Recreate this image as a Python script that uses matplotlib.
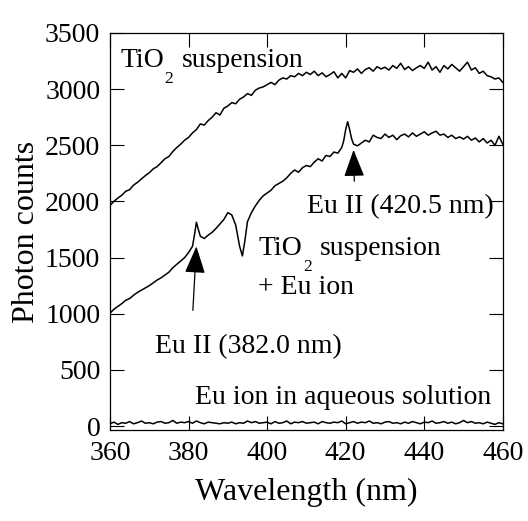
import matplotlib
matplotlib.use('Agg')
import matplotlib.pyplot as plt
import numpy as np

plt.rcParams['font.family'] = ['Liberation Serif', 'DejaVu Serif']

# TiO2 suspension, 360-460 nm every 1 nm
wl = np.arange(360, 461)
tio2 = [1965, 2000, 2030, 2055, 2090, 2105, 2145, 2170, 2200, 2230,
        2255, 2290, 2310, 2345, 2380, 2400, 2445, 2480, 2510, 2545,
        2570, 2610, 2640, 2690, 2680, 2720, 2750, 2790, 2770, 2830,
        2850, 2880, 2870, 2910, 2930, 2960, 2945, 2990, 3010, 3020,
        3040, 3060, 3040, 3080, 3100, 3090, 3120, 3110, 3140, 3120,
        3150, 3130, 3160, 3120, 3145, 3110, 3130, 3155, 3100, 3140,
        3100, 3165, 3150, 3180, 3140, 3175, 3190, 3160, 3200, 3180,
        3195, 3170, 3210, 3185, 3230, 3175, 3200, 3165, 3190, 3210,
        3185, 3240, 3170, 3200, 3150, 3210, 3180, 3220, 3190, 3160,
        3200, 3240, 3170, 3190, 3140, 3160, 3120, 3110, 3090, 3100,
        3060]

# TiO2 suspension + Eu ion (extra points around the lines)
wl_eu = [360, 361, 362, 363, 364, 365, 366, 367, 368, 369,
         370, 371, 372, 373, 374, 375, 376, 377, 378, 379,
         380, 381, 381.5, 382, 382.5, 383, 384, 385, 386, 387, 388, 389,
         390, 391, 392, 393, 393.7, 394.3, 395, 396, 397, 398, 399,
         400, 401, 402, 403, 404, 405, 406, 407, 408, 409,
         410, 411, 412, 413, 414, 415, 416, 417, 418, 419, 419.5,
         420, 420.5, 421, 421.5, 422, 423, 424, 425, 426, 427, 428, 429,
         430, 431, 432, 433, 434, 435, 436, 437, 438, 439,
         440, 441, 442, 443, 444, 445, 446, 447, 448, 449,
         450, 451, 452, 453, 454, 455, 456, 457, 458, 459, 460]
tio2_eu = [1005, 1040, 1065, 1090, 1120, 1135, 1165, 1190, 1210, 1230,
           1250, 1275, 1300, 1320, 1345, 1370, 1410, 1440, 1470, 1500,
           1545, 1600, 1700, 1815, 1750, 1690, 1670, 1700, 1725, 1760, 1800, 1840,
           1900, 1880, 1790, 1600, 1515, 1640, 1820, 1900, 1960, 2010, 2050,
           2075, 2100, 2140, 2160, 2180, 2210, 2250, 2280, 2260, 2300,
           2320, 2310, 2350, 2380, 2360, 2410, 2400, 2440, 2430, 2480, 2540,
           2640, 2710, 2640, 2560, 2510, 2495, 2520, 2545, 2530, 2590, 2570, 2560,
           2600, 2570, 2590, 2550, 2585, 2600, 2575, 2610, 2580, 2600,
           2620, 2590, 2610, 2625, 2590, 2600, 2570, 2590, 2560, 2575,
           2555, 2580, 2545, 2565, 2530, 2560, 2520, 2545, 2500, 2580, 2510]

# Eu ion in aqueous solution
eu_aq = [20, 35, 15, 30, 25, 40, 20, 30, 45, 25, 30, 20, 35, 40, 25, 30, 50, 25, 35, 30,
         40, 25, 45, 30, 20, 35, 30, 25, 20, 30, 25, 35, 20, 30, 25, 45, 30, 40, 25, 30,
         35, 20, 40, 25, 30, 45, 20, 35, 30, 40, 25, 30, 35, 20, 40, 30, 25, 35, 30, 45,
         20, 30, 40, 25, 35, 30, 45, 25, 30, 20, 35, 40, 25, 30, 20, 35, 25, 40, 30, 20,
         35, 30, 45, 25, 30, 40, 25, 35, 20, 30, 50, 30, 40, 25, 30, 20, 35, 25, 15, 30, 20]

fig = plt.figure(figsize=(5.28, 5.21), dpi=100)
ax = fig.add_axes([0.2083, 0.1747, 0.744, 0.762])

ax.plot(wl, tio2, color='black', lw=1.1)
ax.plot(wl_eu, tio2_eu, color='black', lw=1.1)
ax.plot(wl, eu_aq, color='black', lw=1.1)

ax.set_xlim(360, 460)
ax.set_ylim(-35, 3500)
ax.set_xticks([360, 380, 400, 420, 440, 460])
ax.set_yticks([0, 500, 1000, 1500, 2000, 2500, 3000, 3500])
ax.tick_params(direction='in', top=True, right=True, length=10, width=0.8,
               labelsize=20)
ax.tick_params(axis='y', pad=7)
ax.tick_params(axis='x', pad=8)
for s in ax.spines.values():
    s.set_linewidth(0.9)

ax.set_xlabel('Wavelength (nm)', fontsize=23)
ax.set_ylabel('Photon counts', fontsize=23)
ax.xaxis.set_label_coords(0.5, -0.12)
ax.yaxis.set_label_coords(-0.175, 0.5)

fs = 20


def tio2_label(x, y):
    # "TiO" + low subscript "2" + " suspension"
    t1 = ax.text(x, y, 'TiO', fontsize=fs, ha='left', va='baseline')
    t2 = ax.annotate('2', xy=(1, 0), xycoords=t1, xytext=(0.5, 1),
                     textcoords='offset points', fontsize=12.5,
                     ha='left', va='top')
    ax.annotate('suspension', xy=(1, 0), xycoords=(t2, t1), xytext=(6, 0),
                textcoords='offset points', fontsize=fs,
                ha='left', va='bottom')


tio2_label(362.6, 3200)
tio2_label(397.8, 1525)
ax.text(410.2, 1895, 'Eu II (420.5 nm)', fontsize=fs, ha='left', va='baseline')
ax.text(397.8, 1175, '+ Eu ion', fontsize=fs, ha='left', va='baseline')
ax.text(371.5, 646, 'Eu II (382.0 nm)', fontsize=fs, ha='left', va='baseline')
ax.text(381.7, 200, 'Eu ion in aqueous solution', fontsize=fs, ha='left', va='baseline')

arrow = dict(arrowstyle='-|>,head_length=0.85,head_width=0.32', color='black',
             lw=0.9, shrinkA=0, shrinkB=0, mutation_scale=20)
ax.annotate('', xy=(382.0, 1600), xytext=(381.1, 1030), arrowprops=arrow)
ax.annotate('', xy=(422.0, 2460), xytext=(422.2, 2180), arrowprops=arrow)

fig.savefig('out.png', dpi=100)
